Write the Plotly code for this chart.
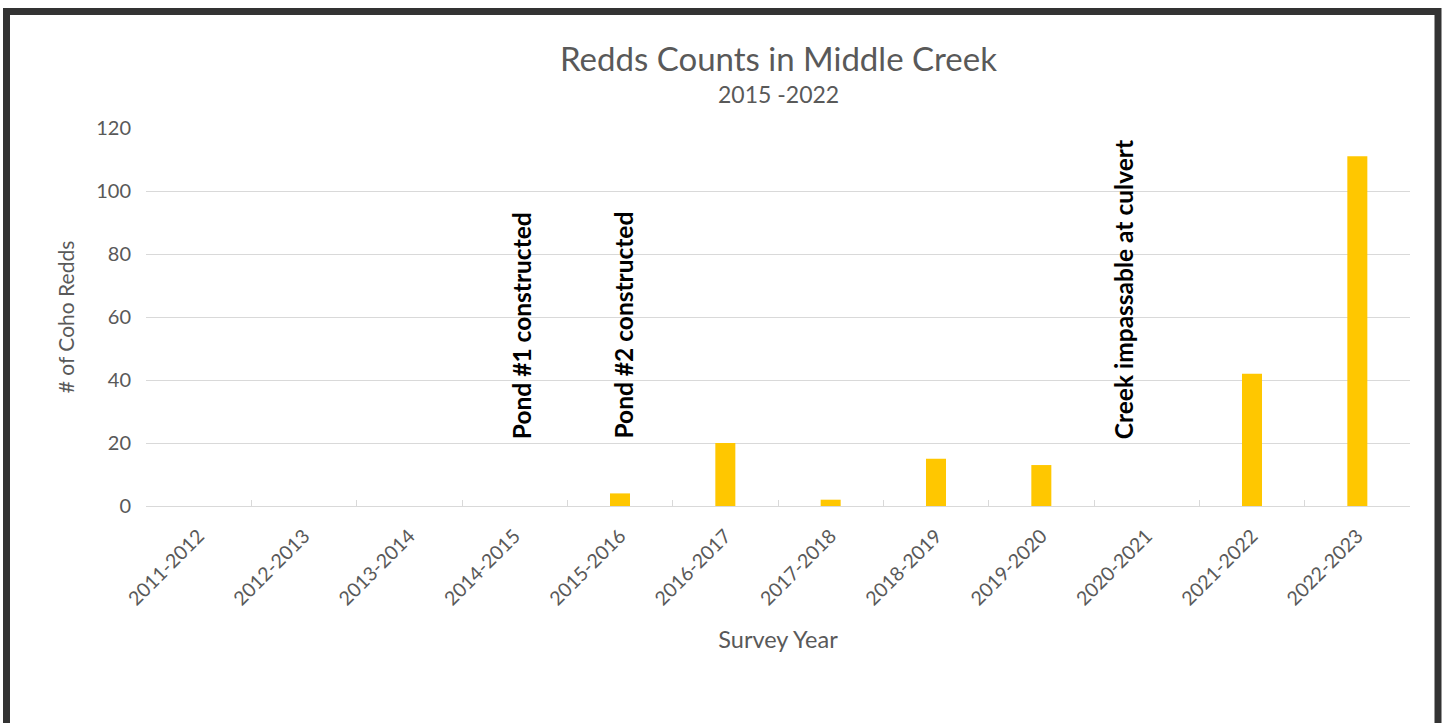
import plotly.graph_objects as go

categories = ["2011-2012", "2012-2013", "2013-2014", "2014-2015", "2015-2016", "2016-2017",
              "2017-2018", "2018-2019", "2019-2020", "2020-2021", "2021-2022", "2022-2023"]
redds = [0, 0, 0, 0, 4, 20, 2, 15, 13, 0, 42, 111]
y_ticks = [0, 20, 40, 60, 80, 100, 120]

notes = ["Pond #1 constructed", "Pond #2 constructed", "Creek impassable at culvert"]
note_cats = ["2014-2015", "2015-2016", "2020-2021"]
note_shift = [7, 3, -23]

L, R, T, B = 146, 35, 128, 217
W, H = 1445, 723
pw, ph = W - L - R, H - T - B
FONT = "Lato"

def px(x):
    return (x - L) / pw

def py(y):
    return (H - B - y) / ph

fig = go.Figure()
fig.add_trace(go.Bar(x=categories, y=redds, marker=dict(color="#FFC700", line=dict(width=0)),
                     width=0.19, hoverinfo="x+y"))

for t, c, s in zip(notes, note_cats, note_shift):
    fig.add_annotation(x=c, y=py(441), xref="x", yref="paper", text="<b>" + t + "</b>",
                       textangle=-90, showarrow=False, xanchor="center", yanchor="bottom",
                       xshift=s, font=dict(family=FONT, size=24.5, color="#000000"))

fig.add_annotation(x=0.5, y=py(58), xref="paper", yref="paper", text="Redds Counts in Middle Creek",
                   showarrow=False, font=dict(family=FONT, size=33, color="#595959"),
                   xanchor="center", yanchor="middle")
fig.add_annotation(x=0.5, y=py(94), xref="paper", yref="paper", text="2015 -2022",
                   showarrow=False, font=dict(family=FONT, size=23, color="#595959"),
                   xanchor="center", yanchor="middle")

fig.add_shape(type="rect", xref="paper", yref="paper",
              x0=px(6.5), x1=px(1438), y0=py(760), y1=py(11.5),
              line=dict(color="#333333", width=7), fillcolor="rgba(0,0,0,0)", layer="above")

fig.update_layout(
    width=W, height=H,
    margin=dict(l=L, r=R, t=T, b=B, autoexpand=False),
    paper_bgcolor="white", plot_bgcolor="white",
    showlegend=False,
    font=dict(family=FONT, color="#595959"),
    xaxis=dict(type="category", tickangle=-45, tickfont=dict(size=19.5, color="#595959"),
               showgrid=False, showline=True, linecolor="#d9d9d9", linewidth=1,
               ticks="inside", tickson="boundaries", ticklen=6, tickcolor="#d9d9d9",
               ticklabelstandoff=10,
               title=dict(text="Survey Year", font=dict(size=23.5, color="#595959"), standoff=23)),
    yaxis=dict(range=[0, 120], tickvals=y_ticks, tickfont=dict(size=20, color="#595959"),
               showgrid=True, gridcolor="#d9d9d9", gridwidth=1, zeroline=False,
               showline=False, ticks="", ticklabelstandoff=14,
               title=dict(text="# of Coho Redds", font=dict(size=21, color="#595959"), standoff=15)),
)

fig.write_html("out.html", config={"displayModeBar": False},
               post_script="document.body.style.margin='0';document.body.style.overflow='hidden';")
